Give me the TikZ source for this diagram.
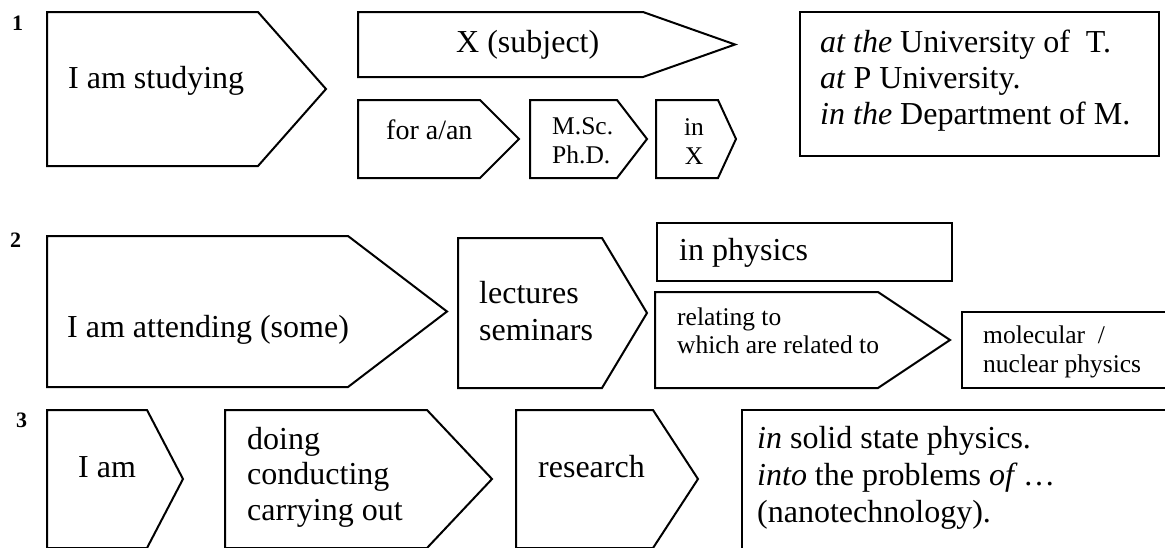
\documentclass[tikz,border=0pt]{standalone}
\usepackage{fontspec}
\setmainfont{Liberation Serif}
\newcommand{\myarrowshape}[5]{%
  \draw[shapeline] (#1,#2) -- (#4,#2) -- (#5,{(#2+#3)/2}) -- (#4,#3) -- (#1,#3) -- cycle;}
\begin{document}
\begin{tikzpicture}[x=1pt,y=-1pt,
  shapeline/.style={draw=black, line width=2pt, line join=miter},
  bigtxt/.style={font=\fontsize{32}{36.5}\selectfont, anchor=base west, inner sep=0pt, align=left},
  midtxt/.style={font=\fontsize{28}{30}\selectfont, anchor=base west, inner sep=0pt, align=left},
  smalltxt/.style={font=\fontsize{25.5}{29}\selectfont, anchor=base west, inner sep=0pt, align=left},
  numlabel/.style={font=\fontsize{22}{24}\selectfont\bfseries, anchor=base west, inner sep=0pt}]
\useasboundingbox (0,0) rectangle (1165,547);
\clip (0,0) rectangle (1165,547);

% ---------- row 1 ----------
\node[numlabel] (n1) at (12,30) {1};
\myarrowshape{47}{12}{166}{258}{326}
\node[bigtxt] (studying) at (68,88) {I am studying};
\myarrowshape{358}{12}{77}{643}{735}
\node[bigtxt] (subject) at (456,52) {X (subject)};
\myarrowshape{358}{100}{178}{480}{519}
\node[midtxt] (foran) at (386,139) {for a/an};
\myarrowshape{530}{100}{178}{617}{647}
\node[smalltxt] (degree) at (552,163) {M.Sc.\\Ph.D.};
\myarrowshape{656}{100}{178}{718}{736}
\node[smalltxt, anchor=base, align=center] (inx) at (694,164) {in\\X};
\draw[shapeline] (800,12) rectangle (1159,156);
\node[bigtxt, font=\fontsize{32}{36}\selectfont] (univ) at (820,124) {\textit{at the} University of~ T.\\\textit{at} P University.\\\textit{in the} Department of M.};

% ---------- row 2 ----------
\node[numlabel] (n2) at (10,247) {2};
\myarrowshape{47}{236}{387}{348}{447}
\node[bigtxt] (attending) at (67,337) {I am attending (some)};
\myarrowshape{458}{238}{388}{602}{647}
\node[bigtxt, font=\fontsize{32}{37}\selectfont] (lectures) at (479,340) {lectures\\seminars};
\draw[shapeline] (657,223) rectangle (952,281);
\node[bigtxt] (physics) at (679,260) {in physics};
\myarrowshape{655}{292}{388}{878}{950}
\node[smalltxt, font=\fontsize{25.5}{28}\selectfont] (relating) at (677,353) {relating to\\which are related to};
\draw[shapeline] (962,312) rectangle (1180,388);
\node[smalltxt] (molecular) at (983,372) {molecular~~/\\nuclear physics};

% ---------- row 3 ----------
\node[numlabel] (n3) at (16,427) {3};
\myarrowshape{47}{410}{548}{147}{183}
\node[bigtxt] (iam) at (78,477) {I am};
\myarrowshape{225}{410}{548}{427}{492}
\node[bigtxt, font=\fontsize{32}{35.5}\selectfont] (doing) at (247,520) {doing\\conducting\\carrying out};
\myarrowshape{516}{410}{548}{653}{698}
\node[bigtxt] (research) at (538,477) {research};
\draw[shapeline] (742,410) rectangle (1180,560);
\node[bigtxt, font=\fontsize{32}{37}\selectfont] (solid) at (757,522) {\textit{in} solid state physics.\\\textit{into} the problems \textit{of}\,\dots\\(nanotechnology).};
\end{tikzpicture}
\end{document}
